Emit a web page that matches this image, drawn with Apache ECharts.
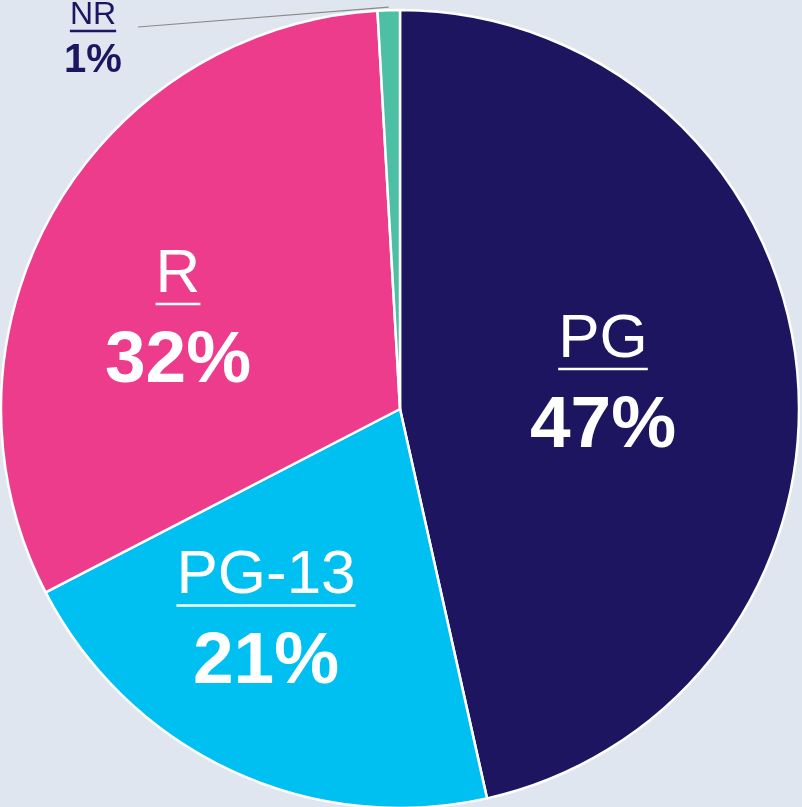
<!DOCTYPE html>
<html><head><meta charset="utf-8">
<script src="https://cdn.jsdelivr.net/npm/echarts@6/dist/echarts.min.js"></script>
<style>html,body{margin:0;padding:0;background:#dfe6f0;} #c{width:802px;height:807px;}</style>
</head><body><div id="c"></div>
<script>
// Data
const categories = ['PG', 'PG-13', 'R', 'NR'];
const shares = [46.5, 20.9, 31.7, 0.9];
const pctLabels = ['47%', '21%', '32%', '1%'];

// Styles / layout (kept separate from data)
const colors = ['#1d1560', '#00c0f2', '#ee3c8c', '#4cbfa4'];
const labelAnchors = { 'PG': [603, 311.5], 'PG-13': [266, 548], 'R': [178, 246.5], 'NR': [93, 1.5] };
const FONT = '"Liberation Sans", Arial, Helvetica, sans-serif';

const cv = document.createElement('canvas').getContext('2d');
function textW(t, size, weight) { cv.font = (weight || 'normal') + ' ' + size + 'px ' + FONT; return cv.measureText(t).width; }

function labelFor(name, i) {
  const small = name === 'NR';
  const col = small ? '#1d1560' : '#ffffff';
  const nSize = small ? 32 : 62;
  const pSize = small ? 40 : 73;
  return {
    show: true,
    position: small ? 'outside' : 'inside',
    formatter: '{n|' + name + '}\n{u| }\n{p|' + pctLabels[i] + '}',
    align: 'center',
    rich: {
      n: { fontFamily: FONT, fontSize: nSize, color: col, lineHeight: small ? 28 : 56, align: 'center' },
      u: { fontSize: 1, width: textW(name, nSize), height: 2.5, lineHeight: 3, backgroundColor: col, align: 'center' },
      p: { fontFamily: FONT, fontSize: pSize, fontWeight: 'bold', color: col, lineHeight: small ? 56 : 112, align: 'center' }
    }
  };
}

const data = categories.map((name, i) => ({
  name: name,
  value: shares[i],
  itemStyle: { color: colors[i] },
  label: labelFor(name, i),
  labelLine: { show: name === 'NR', length: 0, length2: 0, smooth: false, lineStyle: { color: '#8a8a8a', width: 1.2 } }
}));

const chart = echarts.init(document.getElementById('c'), null, { renderer: 'canvas' });
chart.setOption({
  backgroundColor: '#dfe6f0',
  animation: false,
  series: [{
    type: 'pie',
    center: [400, 409],
    radius: 399,
    startAngle: 90,
    clockwise: true,
    avoidLabelOverlap: false,
    itemStyle: { borderColor: '#ffffff', borderWidth: 2.5 },
    emphasis: { disabled: true },
    data: data,
    labelLayout: function (params) {
      const name = categories[params.dataIndex];
      const a = labelAnchors[name];
      const out = { x: a[0], y: a[1], align: 'center', verticalAlign: 'top' };
      if (name === 'NR' && params.labelLinePoints) {
        const p0 = params.labelLinePoints[0];
        out.labelLinePoints = [[p0[0], p0[1] - 3], [138, 27]];
      }
      return out;
    }
  }]
});
</script>
</body></html>
